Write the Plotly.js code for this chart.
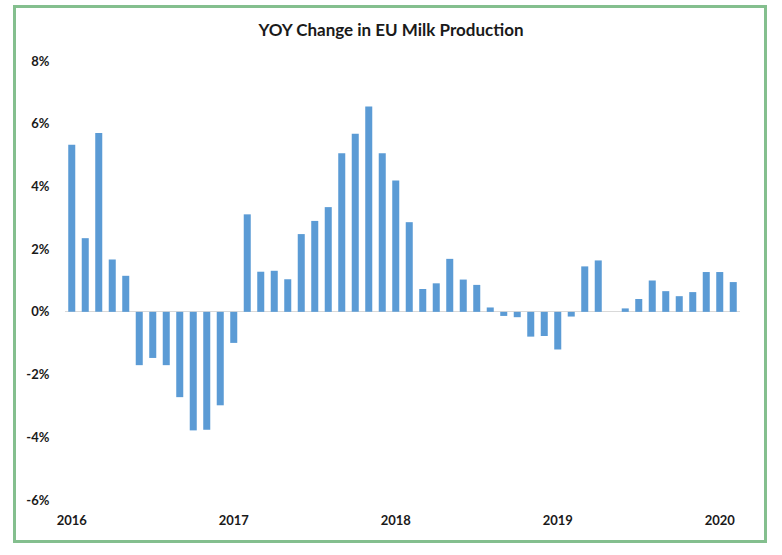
<!DOCTYPE html>
<html>
<head>
<meta charset="utf-8">
<script src="https://cdn.plot.ly/plotly-3.0.1.min.js"></script>
<style>
  html, body { margin: 0; padding: 0; background: #ffffff; }
  #wrap { position: relative; width: 782px; height: 555px; }
  #chart { position: absolute; left: 0; top: 0; width: 782px; height: 555px; }
  #frame { position: absolute; left: 13px; top: 5px; width: 748px; height: 532px;
           border: 3px solid #84bf8e; pointer-events: none; }
</style>
</head>
<body>
<div id="wrap">
  <div id="chart"></div>
  <div id="frame"></div>
</div>
<script>
// Months from Jan 2016 to Feb 2020 (index = month number)
const months = [
  "2016-01","2016-02","2016-03","2016-04","2016-05","2016-06","2016-07","2016-08","2016-09","2016-10","2016-11","2016-12",
  "2017-01","2017-02","2017-03","2017-04","2017-05","2017-06","2017-07","2017-08","2017-09","2017-10","2017-11","2017-12",
  "2018-01","2018-02","2018-03","2018-04","2018-05","2018-06","2018-07","2018-08","2018-09","2018-10","2018-11","2018-12",
  "2019-01","2019-02","2019-03","2019-04","2019-05","2019-06","2019-07","2019-08","2019-09","2019-10","2019-11","2019-12",
  "2020-01","2020-02"
];
// YOY change, percent
const yoyChange = [
  5.33, 2.35, 5.70, 1.67, 1.15, -1.70, -1.47, -1.70, -2.72, -3.78, -3.76, -2.98,
  -0.99, 3.11, 1.28, 1.31, 1.04, 2.48, 2.90, 3.34, 5.06, 5.68, 6.55, 5.06,
  4.19, 2.86, 0.73, 0.91, 1.69, 1.03, 0.86, 0.14, -0.13, -0.17, -0.79, -0.77,
  -1.20, -0.15, 1.45, 1.64, 0.00, 0.11, 0.41, 1.00, 0.66, 0.50, 0.63, 1.27,
  1.27, 0.95
];
const yearTickIndex = [0, 12, 24, 36, 48];
const yearTickText = ["2016", "2017", "2018", "2019", "2020"];
const yTickVals = [-6, -4, -2, 0, 2, 4, 6, 8];
const yTickText = ["-6%", "-4%", "-2%", "0%", "2%", "4%", "6%", "8%"];

const xIdx = months.map((m, i) => i);

const trace = {
  type: "bar",
  x: xIdx,
  y: yoyChange,
  marker: { color: "#5b9bd5" },
  hoverinfo: "skip"
};

const tickFont = { family: "Lato, 'Open Sans', sans-serif", size: 13, color: "#1a1a1a", weight: "bold" };

const layout = {
  width: 782,
  height: 555,
  margin: { l: 65, r: 42, t: 61, b: 55 },
  paper_bgcolor: "#ffffff",
  plot_bgcolor: "#ffffff",
  bargap: 0.48,
  showlegend: false,
  title: {
    text: "<b>YOY Change in EU Milk Production</b>",
    font: { family: "Lato, 'Open Sans', sans-serif", size: 17, color: "#1a1a1a" },
    x: 0.5, xanchor: "center",
    y: 0.945, yanchor: "middle", yref: "container"
  },
  xaxis: {
    range: [-0.5, 49.5],
    tickvals: yearTickIndex,
    ticktext: yearTickText,
    showgrid: false,
    zeroline: false,
    showline: false,
    ticks: "outside",
    ticklen: 8,
    tickcolor: "rgba(0,0,0,0)",
    tickfont: tickFont,
    fixedrange: true
  },
  yaxis: {
    range: [-6, 8],
    tickvals: yTickVals,
    ticktext: yTickText,
    showgrid: false,
    zeroline: true,
    zerolinecolor: "#d9d9d9",
    zerolinewidth: 1,
    showline: false,
    ticks: "outside",
    ticklen: 12,
    tickcolor: "rgba(0,0,0,0)",
    tickfont: tickFont,
    fixedrange: true
  }
};

Plotly.newPlot("chart", [trace], layout, { displayModeBar: false, staticPlot: true });
</script>
</body>
</html>
